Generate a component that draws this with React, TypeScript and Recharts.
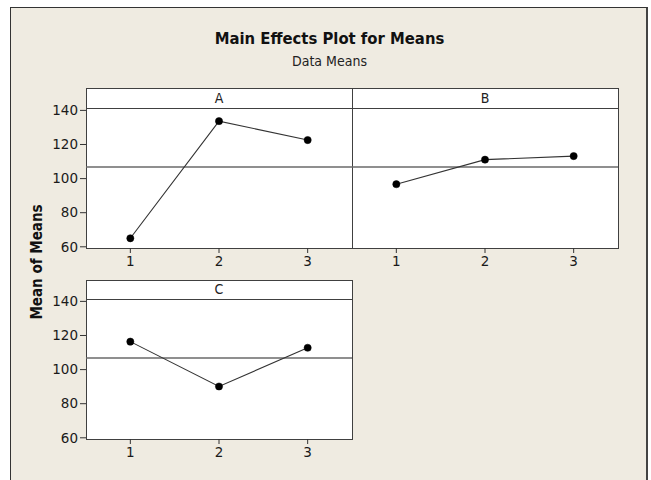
import React from 'react';
import { LineChart, Line, XAxis, YAxis, ReferenceLine } from 'recharts';

const xLevels = [1, 2, 3];
const meansA = [65.0, 133.7, 122.6];
const meansB = [96.7, 111.1, 113.2];
const meansC = [116.4, 90.1, 112.8];
const grandMean = 106.8;
const yTicks = [60, 80, 100, 120, 140];
const factorNames = ['A', 'B', 'C'];
const chartTitle = 'Main Effects Plot for Means';
const chartSubtitle = 'Data Means';
const yAxisTitle = 'Mean of Means';

const FONT = "'DejaVu Sans Condensed', 'DejaVu Sans', sans-serif";
const TICK_FONT = "'DejaVu Sans', sans-serif";
const FRAME = '#404040';
const PLOT_W = 266;
const PLOT_H = 140;
const YAXIS_W = 46;
const MT = 10;
const MR = 10;
const XAXIS_H = 30;

const buildData = (means: number[]) => xLevels.map((lv, i) => ({ level: lv, mean: means[i] }));

const tickStyle = { fill: '#1a1a1a', fontSize: 13.5, fontFamily: TICK_FONT };

function Panel({ plotLeft, plotTop, means, showY }: { plotLeft: number; plotTop: number; means: number[]; showY: boolean }) {
  const data = buildData(means);
  return (
    <div style={{ position: 'absolute', left: plotLeft - YAXIS_W, top: plotTop - MT }}>
      <LineChart
        width={YAXIS_W + PLOT_W + MR}
        height={MT + PLOT_H + XAXIS_H}
        data={data}
        margin={{ top: MT, right: MR, bottom: 0, left: showY ? 0 : YAXIS_W }}
      >
        <XAxis
          dataKey="level"
          type="number"
          domain={[0.5, 3.5]}
          ticks={xLevels}
          allowDataOverflow
          axisLine={false}
          tickLine={{ stroke: '#333' }}
          tickSize={5}
          tickMargin={3}
          height={XAXIS_H}
          fontSize={13.5}
          fontFamily={TICK_FONT}
          tick={tickStyle}
        />
        <YAxis
          hide={!showY}
          type="number"
          domain={[59.3, 141.4]}
          ticks={yTicks}
          allowDataOverflow
          axisLine={false}
          tickLine={{ stroke: '#333' }}
          tickSize={6}
          tickMargin={2}
          width={YAXIS_W}
          fontSize={13.5}
          fontFamily={TICK_FONT}
          tick={tickStyle}
        />
        <ReferenceLine y={grandMean} stroke="#6a6a6a" strokeWidth={1.4} ifOverflow="extendDomain" />
        <Line
          dataKey="mean"
          stroke="#333"
          strokeWidth={1.1}
          dot={{ r: 3.6, fill: '#000', stroke: '#000', strokeWidth: 0.5 }}
          isAnimationActive={false}
        />
      </LineChart>
    </div>
  );
}

const abs = (s: React.CSSProperties): React.CSSProperties => ({ position: 'absolute', boxSizing: 'border-box', ...s });

export default function App() {
  return (
    <div style={{ position: 'absolute', left: 0, top: 0, width: 651, height: 480, background: '#fff', overflow: 'hidden', fontFamily: FONT }}>
      <div style={abs({ left: 10, top: 7, width: 638, height: 480, background: '#EFEBE1', borderLeft: '1px solid #333', borderTop: '1px solid #333', borderRight: '2px solid #444' })} />
      <div style={abs({ left: 0, width: 651, top: 29, textAlign: 'center', paddingLeft: 8, fontWeight: 'bold', fontSize: 16.5, color: '#111' })}>{chartTitle}</div>
      <div style={abs({ left: 0, width: 651, top: 53, textAlign: 'center', paddingLeft: 8, fontSize: 14, color: '#222' })}>{chartSubtitle}</div>
      <div style={abs({ left: 37 - 80, top: 262 - 10, width: 160, height: 20, lineHeight: '20px', textAlign: 'center', transform: 'rotate(-90deg)', fontWeight: 'bold', fontSize: 15, color: '#111' })}>{yAxisTitle}</div>

      {/* Row 1 frame */}
      <div style={abs({ left: 86, top: 88, width: 533, height: 161, background: '#fff', border: `1px solid ${FRAME}` })} />
      <div style={abs({ left: 86, top: 108, width: 533, height: 1, background: FRAME })} />
      <div style={abs({ left: 352, top: 88, width: 1, height: 161, background: FRAME })} />
      <div style={abs({ left: 86, top: 88, width: 266, height: 20, lineHeight: '20px', textAlign: 'center', fontSize: 14, color: '#222' })}>{factorNames[0]}</div>
      <div style={abs({ left: 352, top: 88, width: 266, height: 20, lineHeight: '20px', textAlign: 'center', fontSize: 14, color: '#222' })}>{factorNames[1]}</div>

      {/* Row 2 frame */}
      <div style={abs({ left: 86, top: 280, width: 267, height: 160, background: '#fff', border: `1px solid ${FRAME}` })} />
      <div style={abs({ left: 86, top: 299, width: 267, height: 1, background: FRAME })} />
      <div style={abs({ left: 86, top: 280, width: 266, height: 19, lineHeight: '19px', textAlign: 'center', fontSize: 14, color: '#222' })}>{factorNames[2]}</div>

      <Panel plotLeft={86} plotTop={108} means={meansA} showY={true} />
      <Panel plotLeft={352} plotTop={108} means={meansB} showY={false} />
      <Panel plotLeft={86} plotTop={299} means={meansC} showY={true} />
    </div>
  );
}
